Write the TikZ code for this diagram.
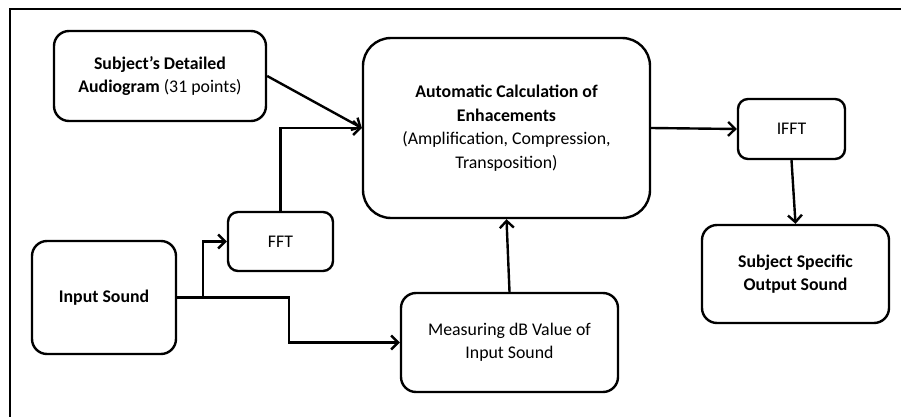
\documentclass[tikz,border=0pt]{standalone}
\usepackage{fontspec}
\setmainfont{Carlito}
\usepackage{tikz}
\usetikzlibrary{arrows.meta,positioning,calc}

\tikzset{
  blk/.style={draw,line width=2.4pt,rounded corners=15pt,align=center,
    inner sep=0pt,font=\fontsize{17.8}{23.5}\selectfont},
  arr/.style={line width=2.4pt,-{Straight Barb[length=7pt,width=14pt,line width=2.4pt]}}
}

\begin{document}
\begin{tikzpicture}[x=1pt,y=-1pt]
\useasboundingbox (0,0) rectangle (901,417);
\draw[line width=2.4pt] (10,417) -- (10,9) -- (901,9);
\node[blk,minimum width=212pt,minimum height=90pt] (aud) at (160,76)
  {\textbf{Subject's Detailed}\\\textbf{Audiogram} (31 points)};
\node[blk,minimum width=287pt,minimum height=180pt,rounded corners=28pt] (calc) at (506.5,128)
  {\textbf{Automatic Calculation of}\\\textbf{Enhacements}\\(Amplification, Compression,\\Transposition)};
\node[blk,minimum width=107pt,minimum height=60pt,rounded corners=10pt] (ifft) at (791.5,129) {IFFT};
\node[blk,minimum width=187pt,minimum height=98pt] (out) at (795.5,274)
  {\textbf{Subject Specific}\\\textbf{Output Sound}};
\node[blk,minimum width=105pt,minimum height=59pt,rounded corners=10pt] (fft) at (280.5,241.5) {FFT};
\node[blk,minimum width=144pt,minimum height=113pt] (in) at (104,297.5) {\textbf{Input Sound}};
\node[blk,minimum width=217pt,minimum height=99pt] (meas) at (509.5,342.5)
  {Measuring dB Value of\\Input Sound};
\draw[arr] (in.east) -- ++(26,0) coordinate (split) |- (fft.west);
\draw[arr] (split) -- ++(86,0) |- (meas.west);
\draw[arr] (fft.north) |- (calc.west);
\draw[arr] (aud.east) -- (calc.west);
\draw[arr] (calc.east) -- (ifft.west);
\draw[arr] (ifft.south) -- (out.north);
\draw[arr] (meas.north) -- (calc.south);
\end{tikzpicture}
\end{document}
